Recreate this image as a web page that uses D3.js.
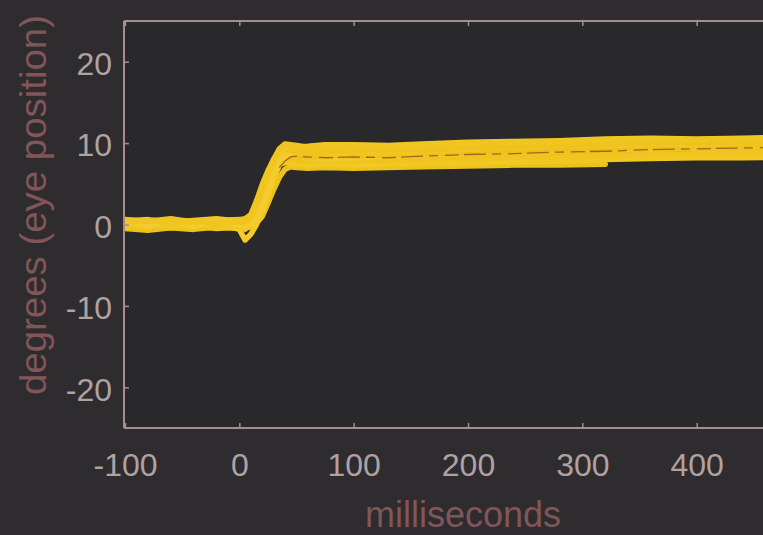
<!DOCTYPE html>
<html>
<head>
<meta charset="utf-8">
<script src="https://cdn.jsdelivr.net/npm/d3@7"></script>
<style>
html,body{margin:0;padding:0;background:#2e2c2f;overflow:hidden;}
svg{display:block;}
</style>
</head>
<body>
<svg id="chart" width="763" height="535"></svg>
<script>
// ---- data ----
const times = [-100,-80,-60,-40,-20,0,5,10,15,20,25,30,35,40,45,50,60,75,100,130,160,200,240,280,320,360,400,440,480,500];
const traceA = [0.3,0.5,0.2,0.4,0.1,0.3,0.2,0.8,2.5,4.5,6.3,8.0,9.3,9.9,9.8,9.7,9.5,9.6,9.5,9.6,9.7,9.9,10.0,10.2,10.4,10.3,10.4,10.5,10.4,10.5];
const traceB = [-0.2,0.1,-0.3,0.0,-0.4,-0.2,-0.5,0.2,1.5,3.4,5.4,7.2,8.6,9.2,9.0,8.9,8.7,8.8,8.6,8.8,9.0,9.2,9.4,9.6,9.7,9.9,9.8,10.0,10.1,10.0];
const traceC = [0.1,-0.2,0.0,-0.3,0.2,-0.6,-1.9,-1.2,0.0,1.6,3.6,5.6,7.3,8.4,8.6,8.5,8.2,8.0,8.2,8.4,8.6,8.8,9.0,9.2,9.4,9.5,9.6,9.7,9.8,9.8];
const traceD = [-0.5,-0.7,-0.4,-0.6,-0.3,-0.5,-0.4,-0.3,0.2,1.0,2.6,4.3,5.8,6.8,7.1,7.0,6.9,7.0,6.9,7.0,7.1,7.2,7.3,7.3,7.4,null,null,null,null,null];
const traceE = [0.6,0.4,0.7,0.3,0.5,0.6,0.7,1.2,2.9,4.9,6.6,8.0,8.9,9.2,9.1,9.0,8.8,9.0,9.1,9.3,9.2,9.4,9.6,9.8,9.9,10.1,10.0,10.2,10.1,10.2];
const traceF = [-0.1,0.2,-0.1,0.1,0.0,0.1,0.0,0.4,1.9,3.9,5.8,7.4,8.3,8.7,8.6,8.4,8.3,8.5,8.4,8.6,8.7,8.9,9.1,9.3,9.4,9.6,9.7,9.8,9.9,9.9];
const traceG = [0.2,0.0,0.3,-0.1,0.2,0.0,-0.2,0.1,1.0,2.6,4.4,6.3,7.7,8.5,8.8,8.9,8.9,9.1,9.2,9.3,9.5,9.6,9.8,10.0,10.2,10.3,10.4,10.5,10.6,10.5];
const traceH = [-0.3,-0.1,-0.4,-0.2,-0.5,-0.3,-0.6,-0.1,1.3,3.1,5.0,6.8,7.9,8.3,8.2,8.0,7.9,8.0,7.9,8.1,8.3,8.5,8.7,8.9,9.1,9.2,9.3,9.4,9.5,9.5];
const traceI = [0.4,0.6,0.3,0.5,0.7,0.4,0.3,0.9,2.2,4.1,6.0,7.7,8.8,9.4,9.6,9.5,9.6,9.8,9.8,9.7,9.9,10.1,10.2,10.3,10.5,10.6,10.5,10.6,10.7,10.6];
const traceJ = [0.0,-0.3,0.1,-0.2,0.1,-0.1,0.3,0.6,1.7,3.0,4.8,6.5,7.4,7.6,7.5,7.4,7.3,7.4,7.3,7.4,7.5,7.6,7.7,7.8,8.0,8.1,8.2,8.2,8.3,8.3];
const traceK = [-0.2,0.0,-0.1,0.1,-0.3,0.2,0.0,0.3,1.2,2.9,4.8,6.6,7.6,8.0,8.0,7.9,7.8,7.9,7.8,7.9,8.0,8.1,8.2,8.3,8.5,8.6,8.7,8.8,8.9,8.9];
const traceDark = [null,null,null,null,null,null,null,null,null,null,null,null,7.0,7.8,8.3,8.4,8.3,8.2,8.3,8.2,8.4,8.6,8.7,8.9,9.0,9.2,9.3,9.4,9.5,9.5];
const yellowTraces = [traceD, traceJ, traceK, traceH, traceC, traceF, traceB, traceG, traceE, traceI, traceA];
const xTicks = [-100,0,100,200,300,400,500];
const xTickLabels = ["-100","0","100","200","300","400",""];
const yTicks = [-20,-10,0,10,20];
const yTickLabels = ["-20","-10","0","10","20"];
const xLabel = "milliseconds";
const yLabel = "degrees (eye position)";

// ---- layout ----
const svg = d3.select("#chart");
const pLeft = 124, pTop = 21, pBottom = 428, pRight = 811;
const x = d3.scaleLinear().domain([-100,500]).range([125,pRight]);
const y = d3.scaleLinear().domain([-25,25]).range([pBottom,pTop]);

const axisColor = "#a68c92";
const tickTextColor = "#aea2a4";
const labelColor = "#805658";
const fontFam = "Liberation Sans, Arial, sans-serif";

// plot area
svg.append("rect").attr("x",pLeft).attr("y",pTop).attr("width",pRight-pLeft).attr("height",pBottom-pTop).attr("fill","#29282b");

svg.append("clipPath").attr("id","clip").append("rect")
  .attr("x",pLeft).attr("y",pTop).attr("width",pRight-pLeft).attr("height",pBottom-pTop);

const line = d3.line()
  .defined(d => d[1] !== null)
  .x(d => x(d[0])).y(d => y(d[1]));

const g = svg.append("g").attr("clip-path","url(#clip)");
const yellows = ["#eec21c","#f2c823","#f1c520","#f0c41e","#f3ca2a","#edc01a","#f1c621","#f4cc2e","#efc31d","#f2c724","#f0c520"];
yellowTraces.forEach((tr,i) => {
  g.append("path")
    .datum(times.map((t,k) => [t, tr[k]]))
    .attr("d", line)
    .attr("fill","none")
    .attr("stroke", yellows[i])
    .attr("stroke-width", 5.5)
    .attr("stroke-linejoin","round")
    .attr("stroke-linecap","round");
});
g.append("path")
  .datum(times.map((t,k) => [t, traceDark[k]]))
  .attr("d", line)
  .attr("fill","none")
  .attr("stroke","#7a4020")
  .attr("stroke-width",1.3)
  .attr("stroke-dasharray","22,6,9,7,14,5")
  .attr("opacity",0.7);

// axes (box with inward ticks)
const axG = svg.append("g");
axG.append("line").attr("x1",pLeft).attr("x2",pLeft).attr("y1",pTop).attr("y2",pBottom).attr("stroke",axisColor).attr("stroke-width",2);
axG.append("line").attr("x1",pLeft).attr("x2",pRight).attr("y1",pTop).attr("y2",pTop).attr("stroke",axisColor).attr("stroke-width",2);
axG.append("line").attr("x1",pLeft).attr("x2",pRight).attr("y1",pBottom).attr("y2",pBottom).attr("stroke",axisColor).attr("stroke-width",2);

const xAxisB = d3.axisBottom(x).tickValues(xTicks).tickSize(-5).tickPadding(25)
  .tickFormat((d,i) => xTickLabels[i]);
const gxb = svg.append("g").attr("transform",`translate(0,${pBottom})`).call(xAxisB);
gxb.select(".domain").remove();
gxb.selectAll(".tick line").attr("stroke",axisColor).attr("stroke-width",1.5);
gxb.selectAll(".tick text").attr("fill",tickTextColor).attr("font-family",fontFam).attr("font-size",32).attr("dy","0.71em");

const xAxisT = d3.axisTop(x).tickValues(xTicks).tickSize(-5).tickFormat("");
const gxt = svg.append("g").attr("transform",`translate(0,${pTop})`).call(xAxisT);
gxt.select(".domain").remove();
gxt.selectAll(".tick line").attr("stroke",axisColor).attr("stroke-width",1.5);

const yAxis = d3.axisLeft(y).tickValues(yTicks).tickSize(-5).tickPadding(12)
  .tickFormat((d,i) => yTickLabels[i]);
const gy = svg.append("g").attr("transform",`translate(${pLeft},0)`).call(yAxis);
gy.select(".domain").remove();
gy.selectAll(".tick line").attr("stroke",axisColor).attr("stroke-width",1.5);
gy.selectAll(".tick text").attr("fill",tickTextColor).attr("font-family",fontFam).attr("font-size",32).attr("dy","0.4em");

// labels
svg.append("text").attr("x",463).attr("y",527).attr("text-anchor","middle")
  .attr("fill",labelColor).attr("font-family",fontFam).attr("font-size",36)
  .text(xLabel);
svg.append("text").attr("transform","translate(46,205) rotate(-90)").attr("text-anchor","middle")
  .attr("fill",labelColor).attr("font-family",fontFam).attr("font-size",36)
  .attr("textLength",380).attr("lengthAdjust","spacingAndGlyphs")
  .text(yLabel);
</script>
</body>
</html>
